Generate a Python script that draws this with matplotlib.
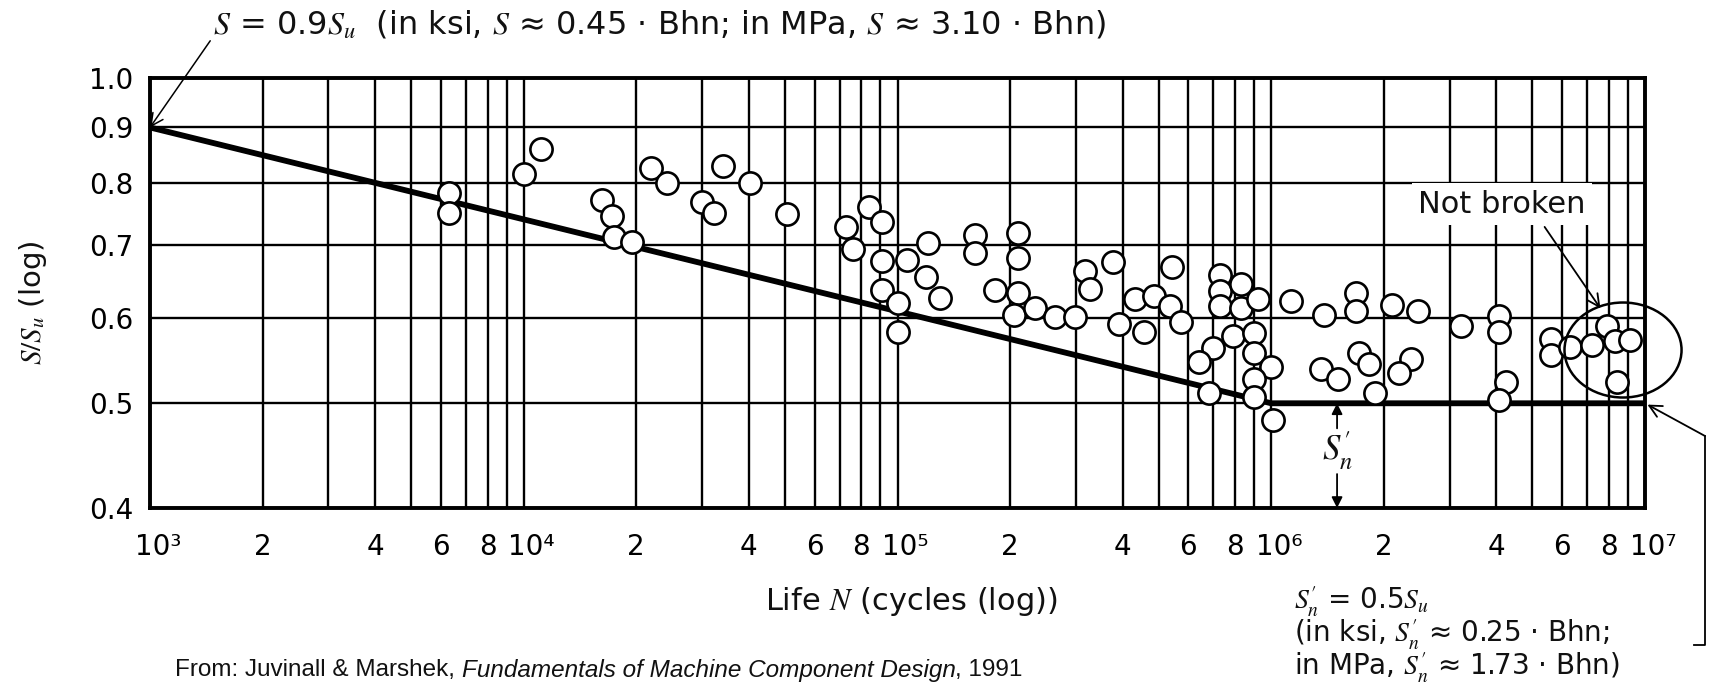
import matplotlib
matplotlib.use("Agg")
import matplotlib.pyplot as plt
from matplotlib.patches import Ellipse
from matplotlib.lines import Line2D
from matplotlib.transforms import ScaledTranslation

# S-N curve (fraction of ultimate strength vs. life)
sn_cycles = [1e3, 1e6, 1e7]
sn_ratio = [0.9, 0.5, 0.5]

# test points
cycles = [6.3e3, 6.3e3, 1.0e4, 1.11e4, 1.62e4, 1.72e4, 1.74e4, 1.95e4, 2.19e4, 2.42e4,
          3.0e4, 3.23e4, 3.41e4, 4.03e4, 5.05e4, 7.3e4, 7.6e4, 8.4e4, 9.1e4, 9.1e4, 9.1e4,
          1.0e5, 1.0e5, 1.06e5, 1.21e5, 1.19e5, 1.30e5, 1.61e5, 1.61e5, 1.82e5,
          2.1e5, 2.1e5, 2.1e5, 2.05e5, 2.33e5, 2.64e5, 2.98e5, 3.17e5, 3.28e5, 3.78e5,
          3.92e5, 4.32e5, 4.87e5, 5.44e5, 5.37e5, 4.58e5, 5.74e5,
          7.3e5, 7.3e5, 7.3e5, 8.3e5, 8.3e5, 9.2e5, 7.9e5, 9.0e5, 7.0e5, 9.0e5, 6.4e5,
          1.0e6, 9.0e5, 6.8e5, 9.0e5, 1.01e6,
          1.13e6, 1.38e6, 1.69e6, 1.69e6, 2.1e6, 2.47e6, 3.22e6, 4.06e6, 4.06e6,
          1.36e6, 1.51e6, 1.72e6, 1.83e6, 2.36e6, 2.2e6, 1.89e6, 4.24e6, 4.06e6,
          5.6e6, 5.6e6]
ratio = [0.782, 0.750, 0.815, 0.860, 0.771, 0.745, 0.713, 0.705, 0.825, 0.800,
         0.768, 0.750, 0.829, 0.800, 0.748, 0.728, 0.694, 0.760, 0.736, 0.677, 0.636,
         0.582, 0.619, 0.679, 0.703, 0.654, 0.626, 0.716, 0.688, 0.637,
         0.718, 0.681, 0.632, 0.603, 0.613, 0.601, 0.601, 0.663, 0.638, 0.676,
         0.592, 0.624, 0.628, 0.669, 0.615, 0.582, 0.594,
         0.657, 0.635, 0.615, 0.645, 0.613, 0.624, 0.577, 0.581, 0.563, 0.556, 0.546,
         0.540, 0.527, 0.511, 0.507, 0.482,
         0.622, 0.604, 0.633, 0.609, 0.617, 0.609, 0.589, 0.602, 0.582,
         0.538, 0.527, 0.556, 0.544, 0.550, 0.533, 0.511, 0.523, 0.503,
         0.574, 0.554]

# runouts (not broken), inside the circle
runout_cycles = [6.3e6, 7.2e6, 7.9e6, 8.3e6, 9.1e6, 8.4e6]
runout_ratio = [0.564, 0.566, 0.590, 0.571, 0.572, 0.523]

y_ticks = [0.4, 0.5, 0.6, 0.7, 0.8, 0.9, 1.0]
y_labels = ['0.4', '0.5', '0.6', '0.7', '0.8', '0.9', '1.0']

sup = {3: '³', 4: '⁴', 5: '⁵', 6: '⁶', 7: '⁷'}
x_ticks = [m * 10 ** e for e in range(3, 7) for m in range(1, 10)] + [1e7]
x_labels = []
for e in range(3, 7):
    x_labels += ['10' + sup[e], '2', '', '4', '', '6', '', '8', '']
x_labels.append('10' + sup[7])

plt.rcParams['font.family'] = 'DejaVu Sans'
plt.rcParams['mathtext.fontset'] = 'stix'
plt.rcParams['text.color'] = '#111111'

W, H = 1716, 689
def fx(px):
    return px / W
def fy(py):
    return 1 - py / H

fig = plt.figure(figsize=(W / 100, H / 100), dpi=100)
ax = fig.add_axes([fx(150), fy(508), 1495 / W, 430 / H])

ax.set_xscale('log')
ax.set_yscale('log')
ax.set_xlim(1e3, 1e7)
ax.set_ylim(0.4, 1.0)

ax.set_xticks(x_ticks, x_labels)
ax.set_yticks(y_ticks, y_labels)
ax.minorticks_off()
ax.tick_params(axis='x', length=0, pad=18, labelsize=20)
ax.tick_params(axis='y', length=0, pad=12, labelsize=20)
ax.grid(True, which='major', color='black', lw=1.7)
ax.set_axisbelow(True)
for sp in ax.spines.values():
    sp.set_linewidth(2.8)

# nudge the powers of ten to the right, as in the scan ("6 8 10⁴")
shift = ScaledTranslation(8 / 100, 0, fig.dpi_scale_trans)
for lab in ax.get_xticklabels():
    if lab.get_text().startswith('10'):
        lab.set_transform(lab.get_transform() + shift)

# S-N line
ax.plot(sn_cycles, sn_ratio, color='black', lw=4.2, zorder=3, solid_capstyle='butt')

# data points
ax.plot(cycles, ratio, 'o', ms=16, mfc='white', mec='black', mew=1.9, zorder=4, clip_on=False)
ax.plot(runout_cycles, runout_ratio, 'o', ms=16, mfc='white', mec='black', mew=1.9, zorder=4, clip_on=False)

# circle round the runouts
ax.add_patch(Ellipse((0.9853, 0.3674), 0.0783, 0.2209, transform=ax.transAxes,
                     fill=False, ec='black', lw=1.8, zorder=5, clip_on=False))

# axis labels
fig.text(fx(33), fy(303), r'$S/S_u$ (log)', rotation=90, ha='center', va='center', fontsize=21)
fig.text(fx(911), fy(602), r'Life $N$ (cycles (log))', ha='center', va='center', fontsize=22)

# top annotation
ax.annotate(r'$S$ = 0.9$S_u$  (in ksi, $S$ ≈ 0.45 · Bhn; in MPa, $S$ ≈ 3.10 · Bhn)',
            xy=(1e3, 0.9), xycoords='data',
            xytext=(fx(213), fy(24)), textcoords='figure fraction',
            ha='left', va='center', fontsize=23,
            arrowprops=dict(arrowstyle='->', color='black', lw=1.1,
                            shrinkA=0, shrinkB=0, mutation_scale=22,
                            relpos=(0, 0.1)),
            annotation_clip=False)

# "Not broken"
ax.annotate('Not broken', xy=(7.6e6, 0.612), xycoords='data',
            xytext=(fx(1502), fy(204)), textcoords='figure fraction',
            ha='center', va='center', fontsize=22,
            bbox=dict(boxstyle='square,pad=0.2', fc='white', ec='none'),
            arrowprops=dict(arrowstyle='->', color='black', lw=1.3,
                            shrinkA=2, shrinkB=0, mutation_scale=22,
                            relpos=(0.72, 0)),
            zorder=6, annotation_clip=False)

# S'n marker
ax.annotate('', xy=(1.5e6, 0.5), xytext=(1.5e6, 0.474),
            arrowprops=dict(arrowstyle='-|>', color='black', lw=1.3, mutation_scale=16,
                            shrinkA=0, shrinkB=0), zorder=5)
ax.annotate('', xy=(1.5e6, 0.4), xytext=(1.5e6, 0.43),
            arrowprops=dict(arrowstyle='-|>', color='black', lw=1.3, mutation_scale=16,
                            shrinkA=0, shrinkB=0), zorder=5)
ax.text(1.5e6, 0.452, r"$S^{\prime}_{n}$", ha='center', va='center', fontsize=25, zorder=5)

# bottom-right note with leader to the endurance line
note = (r"$S^{\prime}_{n}$ = 0.5$S_u$" + "\n" +
        r"(in ksi, $S^{\prime}_{n}$ ≈ 0.25 · Bhn;" + "\n" +
        r"in MPa, $S^{\prime}_{n}$ ≈ 1.73 · Bhn)")
fig.text(fx(1294), fy(635), note, ha='left', va='center', fontsize=20, linespacing=0.95)
fig.add_artist(Line2D([fx(1694), fx(1705), fx(1705)], [fy(645), fy(645), fy(436)],
                      transform=fig.transFigure, color='black', lw=1.3))
ax.annotate('', xy=(1e7, 0.5), xycoords='data',
            xytext=(fx(1705), fy(436)), textcoords='figure fraction',
            arrowprops=dict(arrowstyle='->', color='black', lw=1.3, mutation_scale=22,
                            shrinkA=0, shrinkB=2),
            annotation_clip=False)

# source line, three pieces so the book title can be italic
src = fig.text(fx(175), fy(670), 'From: Juvinall & Marshek, ', ha='left', va='center',
               fontsize=17.5, family='Liberation Sans')
fig.canvas.draw()
r = src.get_window_extent()
book = fig.text(r.x1 / W, fy(670), 'Fundamentals of Machine Component Design', ha='left',
                va='center', fontsize=17.5, family='Liberation Sans', style='italic')
fig.canvas.draw()
r2 = book.get_window_extent()
fig.text(r2.x1 / W, fy(670), ', 1991', ha='left', va='center', fontsize=17.5, family='Liberation Sans')

fig.savefig('out.png', dpi=100)
